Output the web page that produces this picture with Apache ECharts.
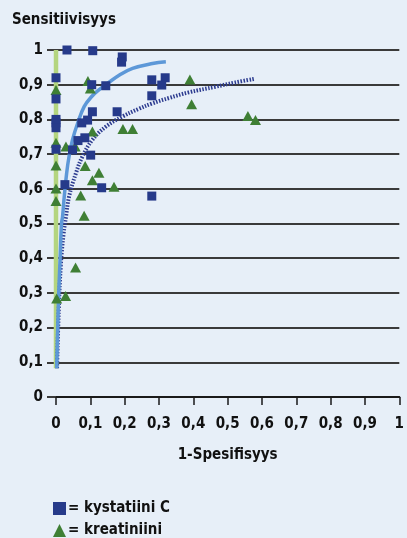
<!DOCTYPE html>
<html>
<head>
<meta charset="utf-8">
<script src="https://cdn.jsdelivr.net/npm/echarts@6/dist/echarts.min.js"></script>
<style>
html,body{margin:0;padding:0;background:#e7eff8;}
#c{width:407px;height:538px;}
</style>
</head>
<body>
<div id="c"></div>
<script>
// ---- data ----
const xTicks = ['0','0,1','0,2','0,3','0,4','0,5','0,6','0,7','0,8','0,9','1'];
const yTicks = ['0','0,1','0,2','0,3','0,4','0,5','0,6','0,7','0,8','0,9','1'];

const cystatinX = [0.032,0.107,0.193,0.191,0,0.104,0.145,0.279,0.318,0.308,0,0.279,0,0,0,0.106,0.178,0.092,0.075,0.084,0.064,0,0.048,0.101,0.026,0.133,0.279];
const cystatinY = [1.0,0.998,0.980,0.965,0.920,0.900,0.897,0.914,0.920,0.899,0.859,0.868,0.800,0.790,0.776,0.822,0.822,0.798,0.790,0.747,0.739,0.714,0.712,0.697,0.612,0.603,0.579];

const creatX = [0,0.093,0.100,0.195,0.223,0.106,0,0.029,0.056,0,0.085,0.125,0.106,0.169,0,0.390,0.395,0,0.072,0.082,0.057,0.002,0.028,0.559,0.581];
const creatY = [0.885,0.911,0.889,0.772,0.772,0.765,0.733,0.722,0.722,0.667,0.666,0.646,0.625,0.606,0.601,0.915,0.844,0.565,0.581,0.522,0.373,0.284,0.291,0.810,0.798];

const curveCX = [0.002,0.005,0.008,0.012,0.016,0.019,0.024,0.031,0.038,0.048,0.063,0.082,0.104,0.125,0.145,0.185,0.223,0.281,0.320];
const curveCY = [0.083,0.20,0.30,0.40,0.50,0.519,0.577,0.645,0.693,0.741,0.789,0.837,0.866,0.885,0.900,0.928,0.947,0.961,0.966];

const curveKX = [0.003,0.008,0.014,0.022,0.029,0.038,0.058,0.077,0.106,0.145,0.193,0.240,0.280,0.330,0.387,0.464,0.520,0.578];
const curveKY = [0.083,0.25,0.38,0.47,0.519,0.577,0.645,0.693,0.741,0.779,0.808,0.830,0.846,0.862,0.878,0.894,0.906,0.917];

const refLineX = [0,0];
const refLineY = [0.083,1];

const legendNames = ['kystatiini C','kreatiniini'];
const yTitle = 'Sensitiivisyys';
const xTitle = '1-Spesifisyys';

// ---- chart ----
const zip = (a,b) => a.map((v,i)=>[v,b[i]]);
const FONT = "'Liberation Sans Narrow','DejaVu Sans Condensed','Roboto Condensed',sans-serif";
const chart = echarts.init(document.getElementById('c'), null, {renderer:'canvas'});
chart.setOption({
  backgroundColor:'#e7eff8',
  animation:false,
  textStyle:{fontFamily:FONT},
  title:{text:yTitle,left:7,top:8,textStyle:{fontFamily:FONT,fontSize:15,fontWeight:'bold',color:'#111'}},
  grid:{left:56,right:5,top:50,bottom:141},
  legend:{
    data:legendNames.map((n,i)=>({name:n,icon:i===0?'rect':'triangle'})),
    orient:'vertical',left:53,top:501,padding:0,itemGap:7,itemWidth:13,itemHeight:13,
    height:40,
    formatter:n=>'= '+n,
    textStyle:{fontFamily:FONT,fontSize:15,fontWeight:'bold',color:'#111',padding:[0,0,0,-3]}
  },
  xAxis:{
    type:'value',min:0,max:1,interval:0.1,
    name:xTitle,nameLocation:'middle',nameGap:51,
    nameTextStyle:{fontFamily:FONT,fontSize:15,fontWeight:'bold',color:'#111'},
    axisLine:{show:true,lineStyle:{color:'#1a1a1a',width:2}},
    axisTick:{show:true,length:8,lineStyle:{color:'#1a1a1a',width:1.5}},
    axisLabel:{margin:20,fontFamily:FONT,fontSize:15,fontWeight:'bold',color:'#111',
      formatter:(v)=>xTicks[Math.round(v*10)]},
    splitLine:{show:false}
  },
  yAxis:{
    type:'value',min:0,max:1,interval:0.1,
    axisLine:{show:false},
    axisTick:{show:true,length:9,lineStyle:{color:'#3a3a3a',width:2}},
    axisLabel:{margin:13,fontFamily:FONT,fontSize:15,fontWeight:'bold',color:'#111',
      formatter:(v)=>yTicks[Math.round(v*10)]},
    splitLine:{show:true,lineStyle:{color:'#3a3a3a',width:2}}
  },
  series:[
    {type:'line',data:zip(refLineX,refLineY),showSymbol:false,symbol:'none',
     lineStyle:{color:'#b4d57f',width:4.5},z:1,silent:true},
    {type:'line',data:zip(curveKX,curveKY),showSymbol:false,symbol:'none',smooth:0.4,
     lineStyle:{color:'#2d3c90',width:4,type:[1.5,1.5]},z:2,silent:true},
    {type:'line',data:zip(curveCX,curveCY),showSymbol:false,symbol:'none',smooth:0.4,
     lineStyle:{color:'#5d98d8',width:3.5},z:3,silent:true},
    {name:legendNames[0],type:'scatter',data:zip(cystatinX,cystatinY),symbol:'rect',symbolSize:9,
     itemStyle:{color:'#263a8a',opacity:1},z:5},
    {name:legendNames[1],type:'scatter',data:zip(creatX,creatY),symbol:'triangle',symbolSize:[11,10],
     itemStyle:{color:'#3f7f35',opacity:1},z:4}
  ]
});
</script>
</body>
</html>
